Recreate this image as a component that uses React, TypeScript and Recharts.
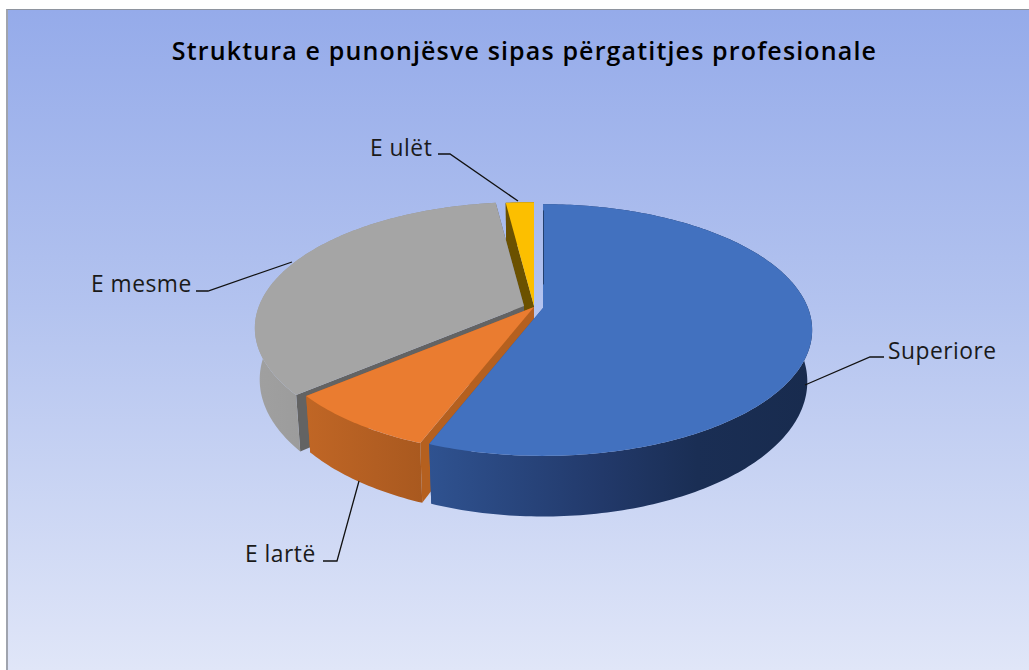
import React from "react";
import { PieChart, Pie } from "recharts";

const categories = ["Superiore", "E lartë", "E mesme", "E ulët"];
const shares = [55.85, 7.95, 34.2, 2.0];
const chartTitle = "Struktura e punonjësve sipas përgatitjes profesionale";

const tableData = categories.map((name, i) => ({ name, value: shares[i] }));

// Styling / layout (not data)
const W = 1029, H = 670;
const CX = 543, CY = 308, RX = 265;
const RY_RATIO = 122 / 265, PERSP = 0.175, DEPTH = 50, SHRINK = 0.018;
const FONT = "'Open Sans', sans-serif";

const look: Record<string, any> = {
  "Superiore": { dx: 0, dy: 0, top: "#4271BF", radial: "#2F5597", edge: "#24406F", stops: [[0, "#2F5290"], [0.45, "#22396A"], [0.7, "#1A2E54"], [1, "#182B4E"]] },
  "E lartë": { dx: -9, dy: -1, top: "#EA7C30", radial: "#B5601F", stops: [[0, "#C06625"], [0.6, "#B25E22"], [1, "#A9591F"]] },
  "E mesme": { dx: -19, dy: -2, top: "#A5A5A5", radial: "#636363", stops: [[0, "#A0A0A0"], [1, "#8B8B8B"]] },
  "E ulët": { dx: -9, dy: -2, top: "#FCBF00", radial: "#6B5100", stops: [[0, "#6B5100"], [1, "#6B5100"]] },
};

const callouts: Record<string, any> = {
  "Superiore": { tx: 888, ty: 359, pts: "805,385 870,357 884,357" },
  "E lartë": { tx: 245, ty: 562, pts: "359,481 337,561 323,561" },
  "E mesme": { tx: 91, ty: 292, pts: "292,262 208,291 196,291" },
  "E ulët": { tx: 370, ty: 156, pts: "518,201 450,154 438,154" },
};

function project(ax: number, ay: number, rx: number, deg: number, r: number, h: number) {
  const a = (deg * Math.PI) / 180;
  const u = r * Math.sin(a), v = r * Math.cos(a);
  const s = 1 / (1 + PERSP * v);
  return [ax + rx * u * s * (1 - SHRINK * h), ay - rx * RY_RATIO * v * s + DEPTH * h * s];
}
const toD = (pts: number[][]) =>
  "M" + pts.map((p) => `${p[0].toFixed(2)},${p[1].toFixed(2)}`).join("L") + "Z";

function sliceLayer(name: string) {
  return (props: any) => {
    if (props.name !== name && props.payload?.name !== name) return <g />;
    const st = look[name];
    const ax = props.cx + st.dx, ay = props.cy + st.dy, rx = props.outerRadius;
    const t1 = 90 - props.startAngle, t2 = 90 - props.endAngle;
    const arc = (h: number, rev = false) => {
      const out: number[][] = [];
      const n = Math.max(2, Math.ceil(Math.abs(t2 - t1)));
      for (let i = 0; i <= n; i++) {
        const d = t1 + ((t2 - t1) * (rev ? n - i : i)) / n;
        out.push(project(ax, ay, rx, d, 1, h));
      }
      return out;
    };
    const c0 = project(ax, ay, rx, t1, 0, 0), c1 = project(ax, ay, rx, t1, 0, 1);
    const id = "wall" + categories.indexOf(name);
    const radial = (d: number) => toD([c0, project(ax, ay, rx, d, 1, 0), project(ax, ay, rx, d, 1, 1), c1]);
    const e0 = project(ax, ay, rx, t1, 0.93, 0), e1 = project(ax, ay, rx, t1, 0.2, 0);
    return (
      <g>
        <defs>
          <linearGradient id={id} x1="0" y1="0" x2="1" y2="0">
            {st.stops.map((s: number[], i: number) => (
              <stop key={i} offset={s[0]} stopColor={s[1] as any} />
            ))}
          </linearGradient>
        </defs>
        <path d={radial(t1)} fill={st.radial} />
        <path d={radial(t2)} fill={st.radial} />
        <path d={toD([...arc(0), ...arc(1, true)])} fill={`url(#${id})`} />
        <path d={toD([c0, ...arc(0)])} fill={st.top} />
        {st.edge ? <line x1={e0[0] + 0.5} y1={e0[1]} x2={e1[0] + 0.5} y2={e1[1]} stroke={st.edge} strokeWidth={1} /> : null}
      </g>
    );
  };
}

function calloutLabel(props: any) {
  const c = callouts[props.name ?? props.payload?.name];
  if (!c) return <g />;
  return (
    <g>
      <polyline points={c.pts} fill="none" stroke="#111" strokeWidth={1.3} />
      <text x={c.tx} y={c.ty} fontFamily={FONT} fontSize={22.8} fill="#1a1a1a" textAnchor="start" style={{ letterSpacing: "0.5px" }}>
        {props.name ?? props.payload?.name}
      </text>
    </g>
  );
}

const paintOrder = ["E ulët", "E mesme", "E lartë", "Superiore"];

export default function App() {
  return (
    <div style={{ position: "absolute", left: 0, top: 0, width: W, height: H, overflow: "hidden", background: "#fff" }}>
      <div
        style={{
          position: "absolute", left: 6, top: 9, width: W - 6, height: H - 9, boxSizing: "border-box",
          borderLeft: "2px solid #A0A4AE", borderTop: "1px solid #8E949E",
          background: "linear-gradient(180deg, #95ABEA 0%, #B3C3EF 45%, #E0E6F8 100%)",
        }}
      />
      <div style={{ position: "absolute", left: 0, top: 0 }}>
        <PieChart width={W} height={H} margin={{ top: 0, right: 0, bottom: 0, left: 0 }}>
          {paintOrder.map((nm, i) => (
            <Pie
              key={nm}
              data={tableData}
              dataKey="value"
              nameKey="name"
              cx={CX}
              cy={CY}
              innerRadius={0}
              outerRadius={RX}
              startAngle={90}
              endAngle={-270}
              stroke="none"
              isAnimationActive={false}
              shape={sliceLayer(nm)}
              label={i === paintOrder.length - 1 ? calloutLabel : false}
              labelLine={false}
            />
          ))}
          <text x={524.5} y={60} textAnchor="middle" fontFamily={FONT} fontSize={25} fontWeight={600} fill="#000" style={{ letterSpacing: "1.15px" }}>
            {chartTitle}
          </text>
        </PieChart>
      </div>
    </div>
  );
}
